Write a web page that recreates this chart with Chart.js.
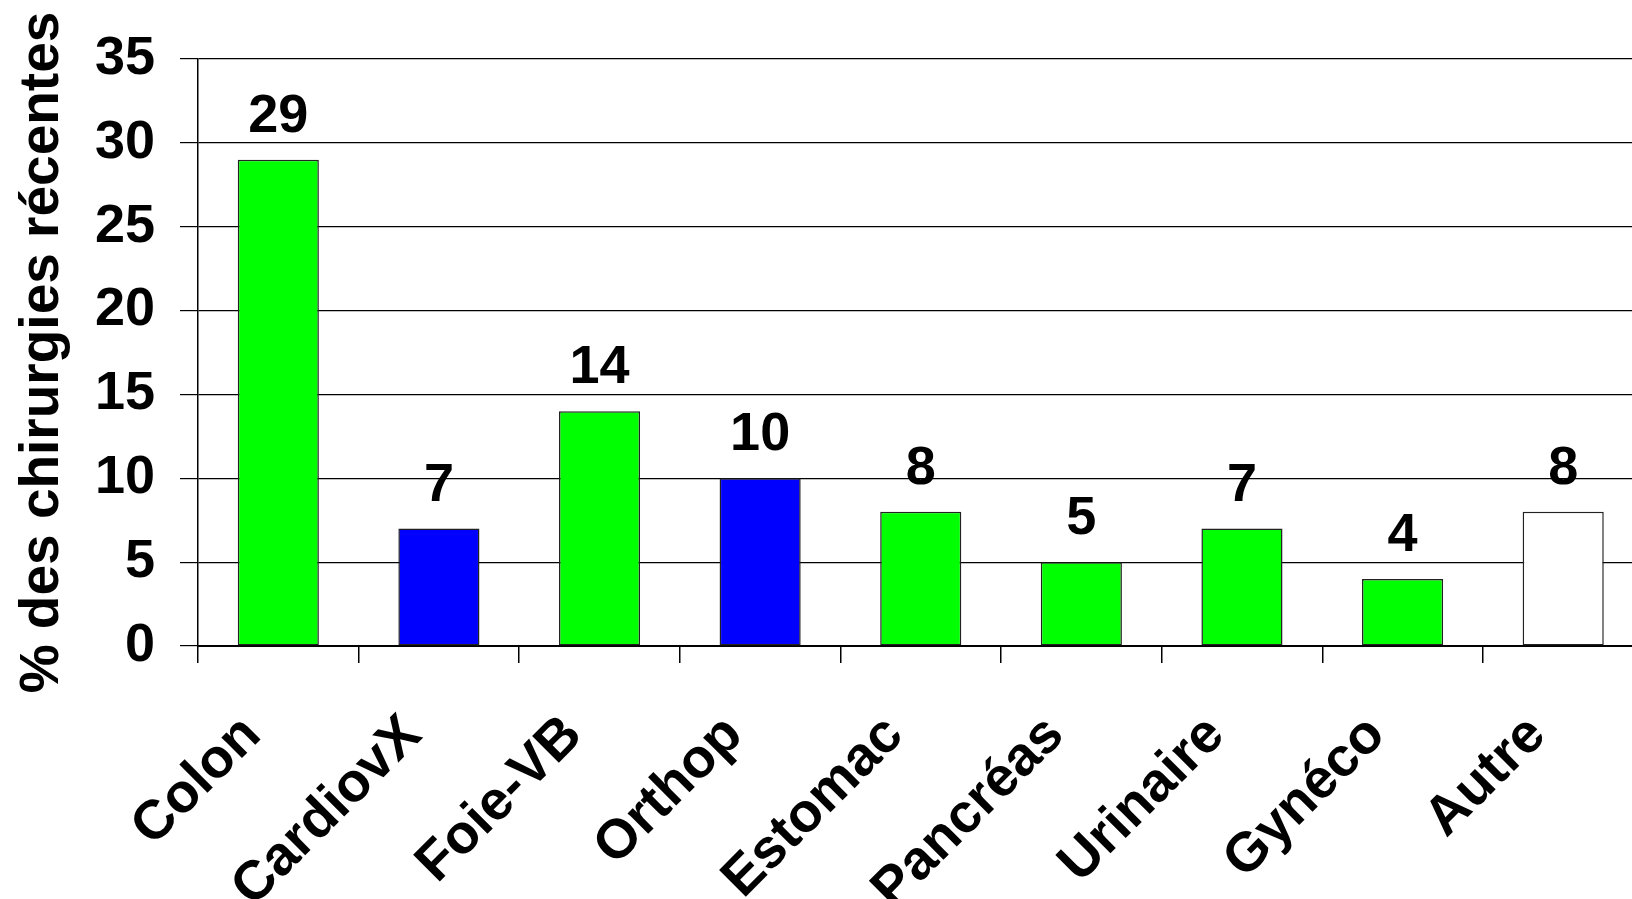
<!DOCTYPE html>
<html lang="fr">
<head>
<meta charset="utf-8">
<title>Chirurgies récentes</title>
<script src="https://cdn.jsdelivr.net/npm/chart.js@4/dist/chart.umd.min.js"></script>
<style>
  html, body { margin: 0; padding: 0; background: #fff; overflow: hidden; }
  #wrap { width: 1650px; height: 899px; }
</style>
</head>
<body>
<div id="wrap"><canvas id="chirChart" width="1650" height="899"></canvas></div>
<script>
// Répartition des chirurgies récentes par type
const categories = ["Colon", "CardiovX", "Foie-VB", "Orthop", "Estomac", "Pancréas", "Urinaire", "Gynéco", "Autre"];
const pourcentages = [29, 7, 14, 10, 8, 5, 7, 4, 8];
const couleurs = ["#00ff00", "#0000ff", "#00ff00", "#0000ff", "#00ff00", "#00ff00", "#00ff00", "#00ff00", "#ffffff"];
const yTicks = [0, 5, 10, 15, 20, 25, 30, 35];
const yTitre = "% des chirurgies récentes";

const police = "'Liberation Sans', Arial, Helvetica, sans-serif";

// Valeur écrite au-dessus de chaque barre
const valeursPlugin = {
    id: "valeurs",
    afterDatasetsDraw(chart) {
        const ctx = chart.ctx;
        const meta = chart.getDatasetMeta(0);
        ctx.save();
        ctx.font = "bold 54px " + police;
        ctx.fillStyle = "#000";
        ctx.textAlign = "center";
        ctx.textBaseline = "alphabetic";
        meta.data.forEach((bar, i) => {
            ctx.fillText(String(chart.data.datasets[0].data[i]), bar.x, bar.y - 28);
        });
        ctx.restore();
    }
};

const ctx = document.getElementById("chirChart").getContext("2d");
new Chart(ctx, {
    type: "bar",
    data: {
        labels: categories,
        datasets: [{
            data: pourcentages,
            backgroundColor: couleurs,
            borderColor: "#222",
            borderWidth: 1.5,
            borderSkipped: false,
            barPercentage: 0.505,
            categoryPercentage: 1
        }]
    },
    options: {
        responsive: false,
        animation: false,
        layout: { padding: { top: 59, right: 2.5, bottom: 0, left: 0 } },
        plugins: {
            legend: { display: false },
            tooltip: { enabled: false }
        },
        scales: {
            x: {
                offset: true,
                afterFit(scale) {
                    // hauteur fixe sous l'axe pour les étiquettes inclinées
                    scale.height = 253;
                },
                grid: {
                    offset: true,
                    drawOnChartArea: false,
                    drawTicks: true,
                    tickLength: 17,
                    color: "#000",
                    lineWidth: 1.5
                },
                border: { display: true, color: "#000", width: 2 },
                ticks: {
                    autoSkip: false,
                    minRotation: 45,
                    maxRotation: 45,
                    padding: 40,
                    labelOffset: -26,
                    color: "#000",
                    font: { family: police, size: 55, weight: "bold" }
                }
            },
            y: {
                min: 0,
                max: 35,
                afterBuildTicks(scale) {
                    scale.ticks = yTicks.map(v => ({ value: v }));
                },
                afterFit(scale) {
                    scale.width = 198;
                },
                grid: {
                    color: "#000",
                    lineWidth: 1.2,
                    tickLength: 18
                },
                border: { display: true, color: "#000", width: 1.5 },
                ticks: {
                    padding: 25,
                    color: "#000",
                    font: { family: police, size: 54, weight: "bold" }
                },
                title: {
                    display: true,
                    text: yTitre,
                    color: "#000",
                    padding: { top: 10, bottom: 0 },
                    font: { family: police, size: 55, weight: "bold" }
                }
            }
        }
    },
    plugins: [valeursPlugin]
});
</script>
</body>
</html>
